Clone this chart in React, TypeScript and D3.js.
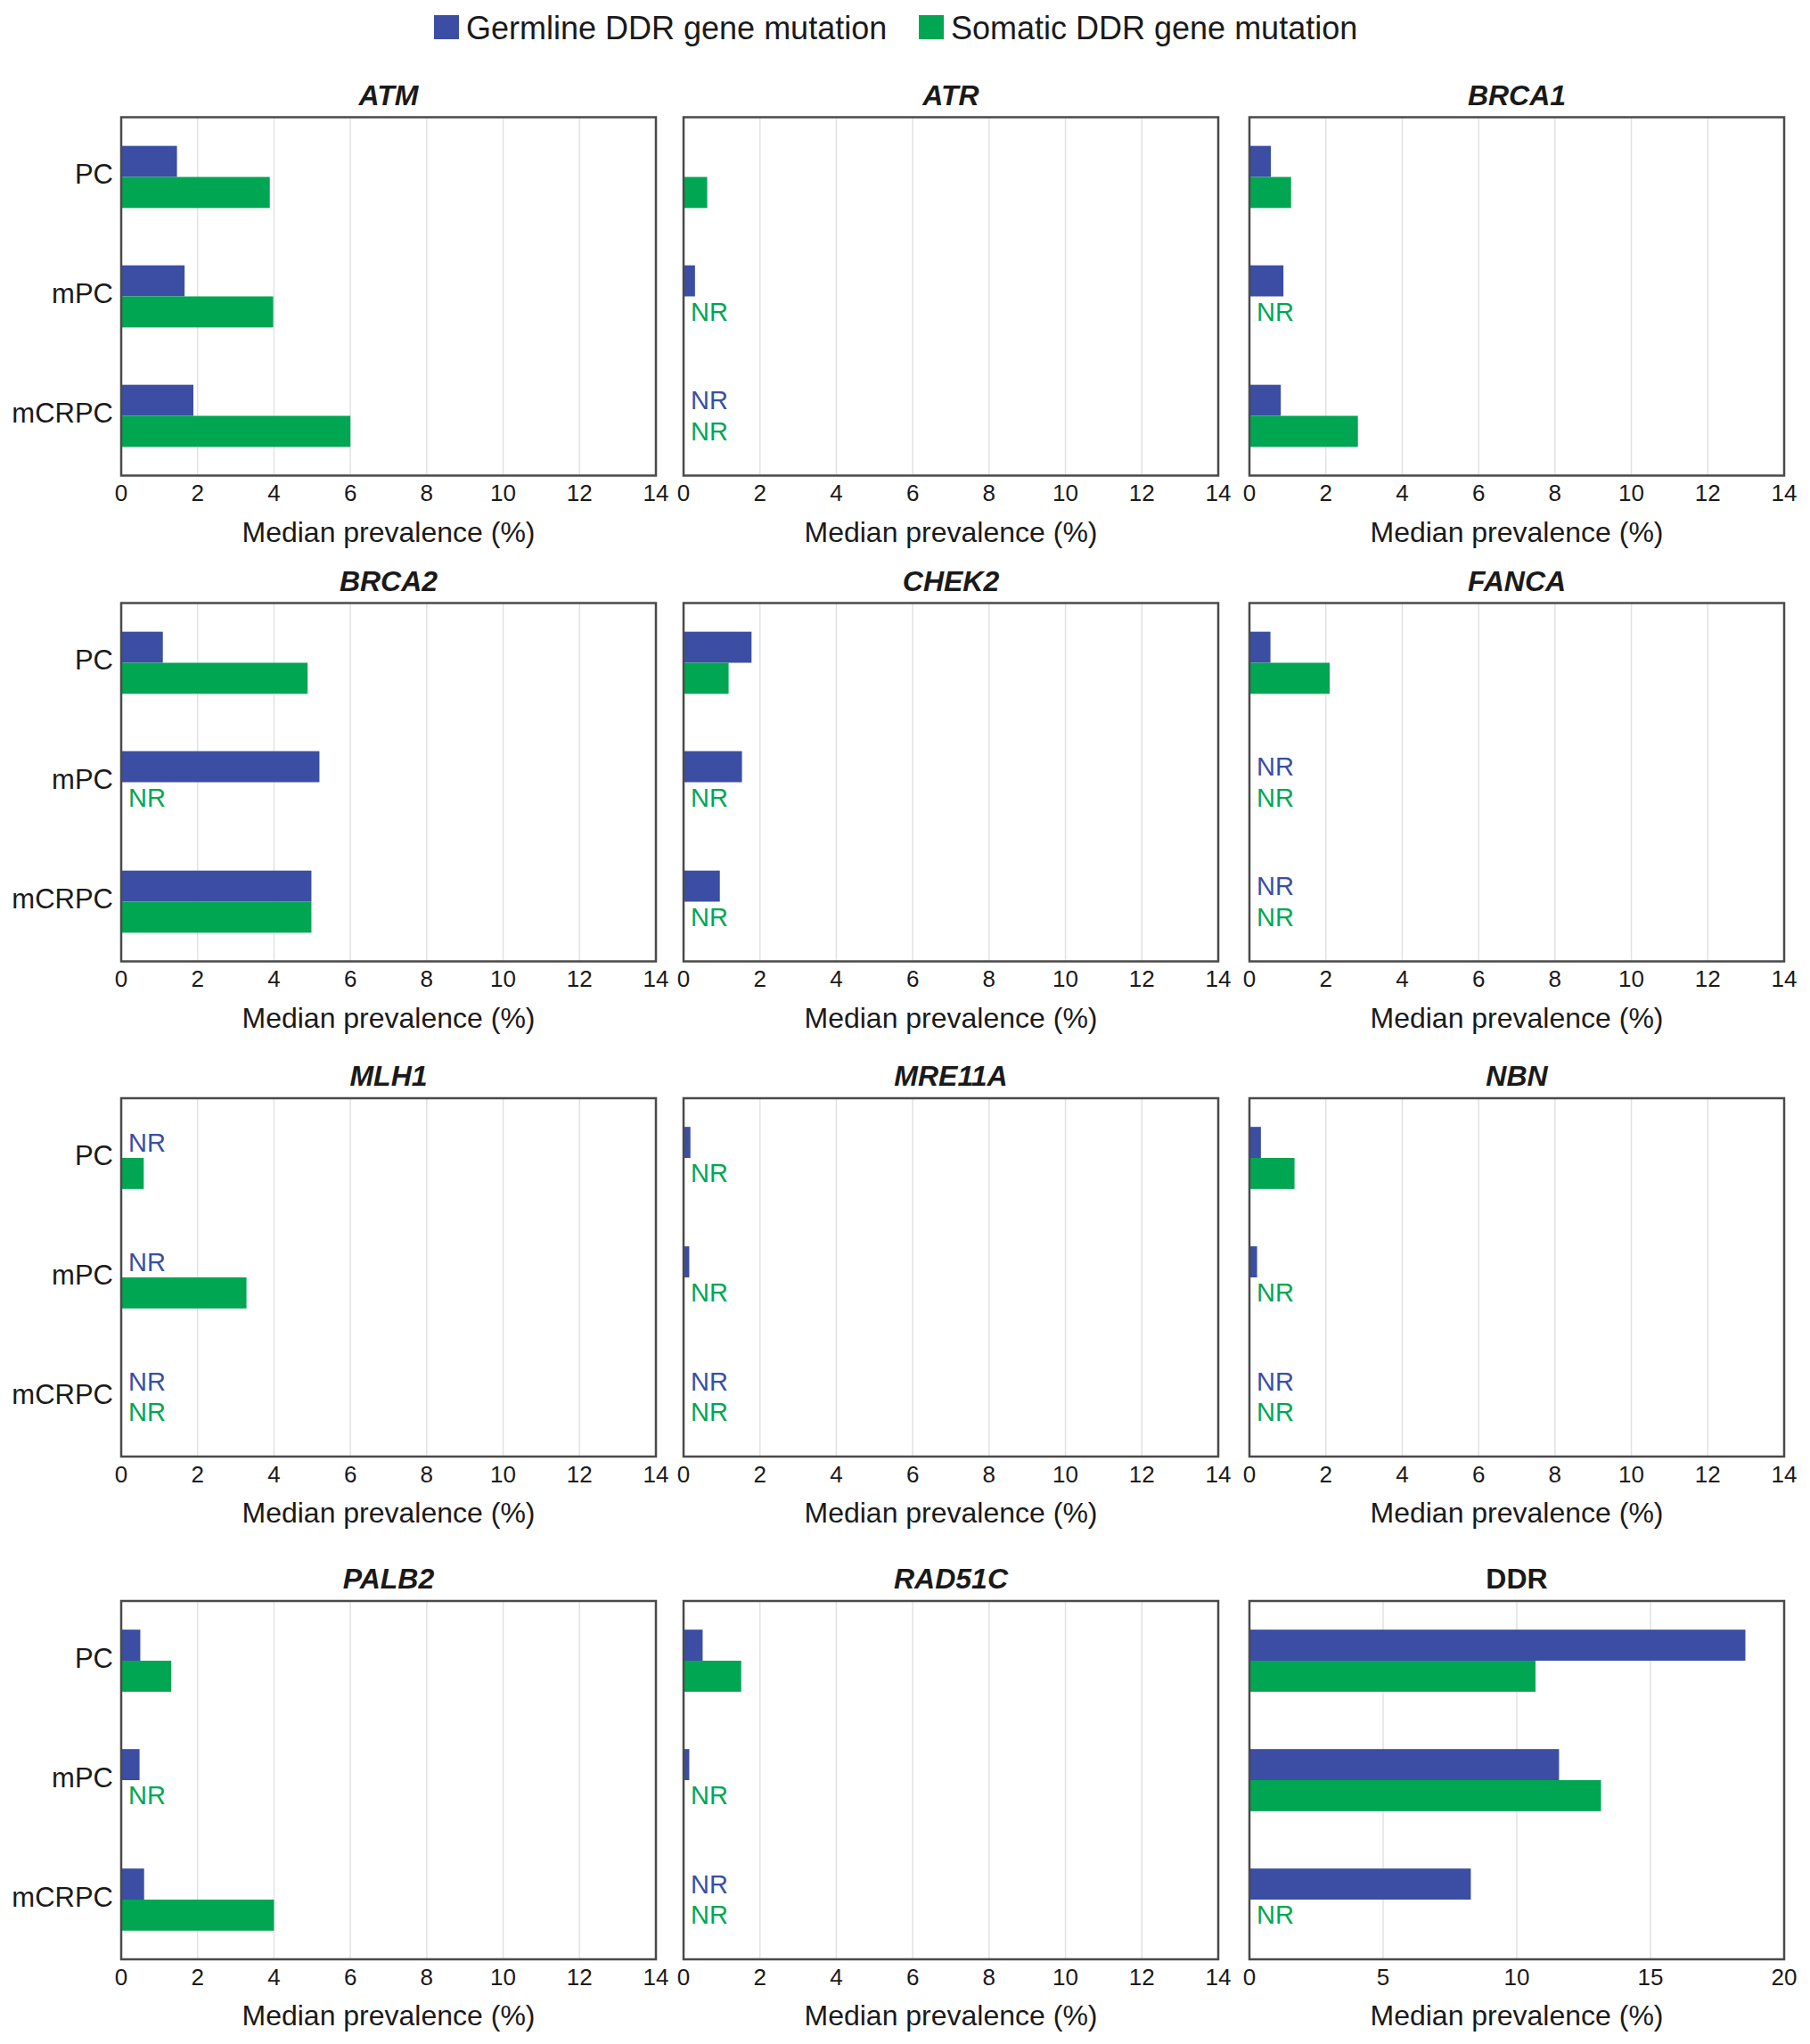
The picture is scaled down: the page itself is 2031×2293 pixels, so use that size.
import React from "react";
import * as d3 from "d3";

// ---- data ----
const genes = ["ATM", "ATR", "BRCA1", "BRCA2", "CHEK2", "FANCA", "MLH1", "MRE11A", "NBN", "PALB2", "RAD51C", "DDR"];
const italicTitle = [true, true, true, true, true, true, true, true, true, true, true, false];
const stages = ["PC", "mPC", "mCRPC"];
const seriesNames = ["Germline DDR gene mutation", "Somatic DDR gene mutation"];
const seriesColors = ["#3b4ea3", "#00a651"];

// null = NR (not reported)
const germline: (number | null)[][] = [
  [1.46, 1.66, 1.89], // ATM
  [0, 0.3, null], // ATR
  [0.56, 0.89, 0.82], // BRCA1
  [1.09, 5.19, 4.98], // BRCA2
  [1.78, 1.53, 0.95], // CHEK2
  [0.55, null, null], // FANCA
  [null, null, null], // MLH1
  [0.18, 0.15, null], // MRE11A
  [0.3, 0.2, null], // NBN
  [0.5, 0.48, 0.6], // PALB2
  [0.5, 0.15, null], // RAD51C
  [18.55, 11.58, 8.28], // DDR
];
const somatic: (number | null)[][] = [
  [3.89, 3.98, 6.0], // ATM
  [0.62, null, null], // ATR
  [1.09, null, 2.84], // BRCA1
  [4.88, null, 4.98], // BRCA2
  [1.18, null, null], // CHEK2
  [2.1, null, null], // FANCA
  [0.59, 3.28, null], // MLH1
  [null, null, null], // MRE11A
  [1.18, null, null], // NBN
  [1.31, null, 4.0], // PALB2
  [1.51, null, null], // RAD51C
  [10.7, 13.15, null], // DDR
];
const axisMax = [14, 14, 14, 14, 14, 14, 14, 14, 14, 14, 14, 20];
const tickStep = [2, 2, 2, 2, 2, 2, 2, 2, 2, 2, 2, 5];
const axisTitle = "Median prevalence (%)";

// ---- layout ----
const W = 2031;
const H = 2293;
const colLeft = [136, 767, 1402];
const rowTop = [131.5, 676.5, 1232, 1796];
const PW = 600;
const PH = 402;
const FONT = "'Liberation Sans', Arial, Helvetica, sans-serif";
const TEXT = "#1a1a1a";

function Panel({ gi }: { gi: number }) {
  const col = gi % 3;
  const row = Math.floor(gi / 3);
  const x0 = colLeft[col];
  const y0 = rowTop[row];
  const x = d3.scaleLinear().domain([0, axisMax[gi]]).range([x0, x0 + PW]);
  const y = d3
    .scaleBand<string>()
    .domain(stages)
    .range([y0, y0 + PH])
    .paddingInner(0.48)
    .paddingOuter(0.24);
  const sub = d3.scaleBand<number>().domain([0, 1]).range([0, y.bandwidth()]);
  const ticks = d3.range(0, axisMax[gi] + 0.001, tickStep[gi]);
  const series = [germline[gi], somatic[gi]];
  return (
    <g>
      <text
        x={x0 + PW / 2}
        y={y0 - 25}
        textAnchor="middle"
        dominantBaseline="central"
        fontSize={32}
        fontWeight="bold"
        fontStyle={italicTitle[gi] ? "italic" : "normal"}
        fill={TEXT}
      >
        {genes[gi]}
      </text>
      <rect x={x0} y={y0} width={PW} height={PH} fill="#ffffff" />
      {ticks
        .filter((t) => t > 0 && t < axisMax[gi])
        .map((t) => (
          <line key={t} x1={x(t)} x2={x(t)} y1={y0} y2={y0 + PH} stroke="#e2e2e2" strokeWidth={1.5} />
        ))}
      {stages.map((s, si) =>
        series.map((vals, k) => {
          const v = vals[si];
          const by = (y(s) as number) + (sub(k) as number);
          if (v === null) {
            return (
              <text
                key={s + k}
                x={x0 + 8}
                y={by + sub.bandwidth() / 2}
                dominantBaseline="central"
                fontSize={29}
                fill={seriesColors[k]}
              >
                NR
              </text>
            );
          }
          return (
            <rect
              key={s + k}
              x={x(0)}
              y={by}
              width={Math.max(0, x(v) - x(0))}
              height={sub.bandwidth()}
              fill={seriesColors[k]}
            />
          );
        })
      )}
      <rect x={x0} y={y0} width={PW} height={PH} fill="none" stroke="#4a4a4a" strokeWidth={2.5} />
      {col === 0 &&
        stages.map((s) => (
          <text
            key={s}
            x={x0 - 9}
            y={(y(s) as number) + y.bandwidth() / 2 - 3}
            textAnchor="end"
            dominantBaseline="central"
            fontSize={31}
            fill={TEXT}
          >
            {s}
          </text>
        ))}
      {ticks.map((t) => (
        <text
          key={t}
          x={x(t)}
          y={y0 + PH + 19.5}
          textAnchor="middle"
          dominantBaseline="central"
          fontSize={26}
          fill={TEXT}
        >
          {t}
        </text>
      ))}
      <text
        x={x0 + PW / 2}
        y={y0 + PH + 63}
        textAnchor="middle"
        dominantBaseline="central"
        fontSize={32}
        fill={TEXT}
      >
        {axisTitle}
      </text>
    </g>
  );
}

export default function App() {
  const legendX = [487, 1031];
  return (
    <svg
      width={W}
      height={H}
      viewBox={`0 0 ${W} ${H}`}
      style={{ position: "absolute", left: 0, top: 0, background: "#ffffff" }}
      fontFamily={FONT}
    >
      <rect width={W} height={H} fill="#ffffff" />
      {seriesNames.map((n, i) => (
        <g key={n}>
          <rect x={legendX[i]} y={17} width={28} height={27} fill={seriesColors[i]} />
          <text x={legendX[i] + 36} y={31} dominantBaseline="central" fontSize={36} fill={TEXT}>
            {n}
          </text>
        </g>
      ))}
      {genes.map((g, gi) => (
        <Panel key={g} gi={gi} />
      ))}
    </svg>
  );
}
